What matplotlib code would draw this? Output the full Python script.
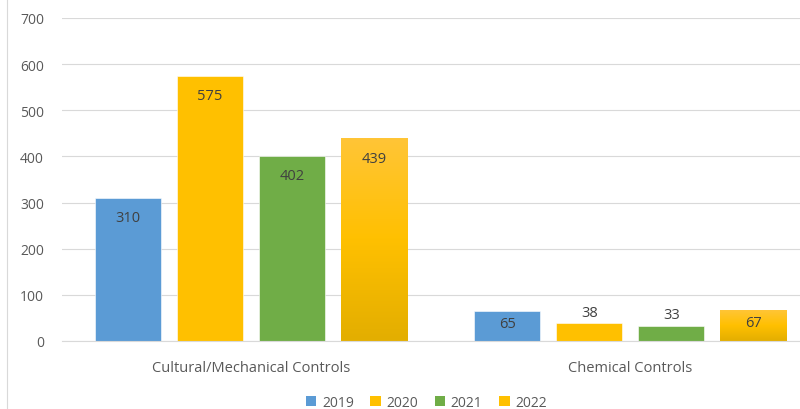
import matplotlib.pyplot as plt
import numpy as np
from matplotlib.colors import LinearSegmentedColormap
from matplotlib.lines import Line2D
from matplotlib.patches import Patch

categories = ["Cultural/Mechanical Controls", "Chemical Controls"]
years = ["2019", "2020", "2021", "2022"]
values = {
    "2019": [310, 65],
    "2020": [575, 38],
    "2021": [402, 33],
    "2022": [439, 67],
}
colors = {"2019": "#5B9BD5", "2020": "#FFC000", "2021": "#70AD47", "2022": "#FFC000"}
yticks = [0, 100, 200, 300, 400, 500, 600, 700]

plt.rcParams["font.family"] = ["Open Sans", "DejaVu Sans"]
text_col = "#595959"

fig = plt.figure(figsize=(8, 4.1), dpi=100)
ax = fig.add_axes([62 / 800, 68 / 410, 738 / 800, 323 / 410])

x = np.arange(len(categories))
width = 0.174
step = 0.216
grad = LinearSegmentedColormap.from_list("g22", ["#E3AE00", "#FFC000", "#FFC536"])

for i, yr in enumerate(years):
    pos = x + (i - 1.5) * step
    bars = ax.bar(pos, values[yr], width, color=colors[yr], edgecolor="white",
                  linewidth=0.4, zorder=2)
    if yr == "2022":
        for b in bars:
            b.set_facecolor("none")
            im = ax.imshow(np.linspace(0, 1, 100).reshape(-1, 1), cmap=grad,
                           origin="lower", aspect="auto", zorder=2,
                           extent=[b.get_x(), b.get_x() + b.get_width(), 0, b.get_height()])
            im.set_clip_path(b)
    for p, v in zip(pos, values[yr]):
        # inside end for tall bars, centred for short ones, above for tiny ones
        if v > 100:
            ty = v - 43
        elif v > 50:
            ty = v * 0.6
        else:
            ty = v + 24
        ax.text(p, ty, str(v), ha="center", va="center", fontsize=10.5,
                color="#404040", zorder=3)

ax.set_xlim(-0.498, 1.447)
ax.set_ylim(0, 700)
ax.set_yticks(yticks)
ax.set_xticks(x)
ax.set_xticklabels(categories)
ax.tick_params(axis="y", length=0, pad=13, labelsize=10, labelcolor=text_col)
ax.tick_params(axis="x", length=0, pad=14, labelsize=10.5, labelcolor=text_col)
ax.grid(axis="y", color="#D9D9D9", linewidth=0.8, zorder=0)
ax.set_axisbelow(True)
for s in ["top", "right", "left"]:
    ax.spines[s].set_visible(False)
ax.spines["bottom"].set_color("#D9D9D9")

handles = [Patch(facecolor=colors[yr]) for yr in years]
fig.legend(handles, years, loc="center", bbox_to_anchor=(0.533, 0.017), ncol=4,
           frameon=False, fontsize=10, labelcolor=text_col, handlelength=0.75,
           handleheight=0.75, handletextpad=0.4, columnspacing=1.2)

fig.add_artist(Line2D([7 / 800, 7 / 800], [0, 1], color="#D9D9D9", linewidth=0.8))

fig.savefig("out.png", dpi=100)
